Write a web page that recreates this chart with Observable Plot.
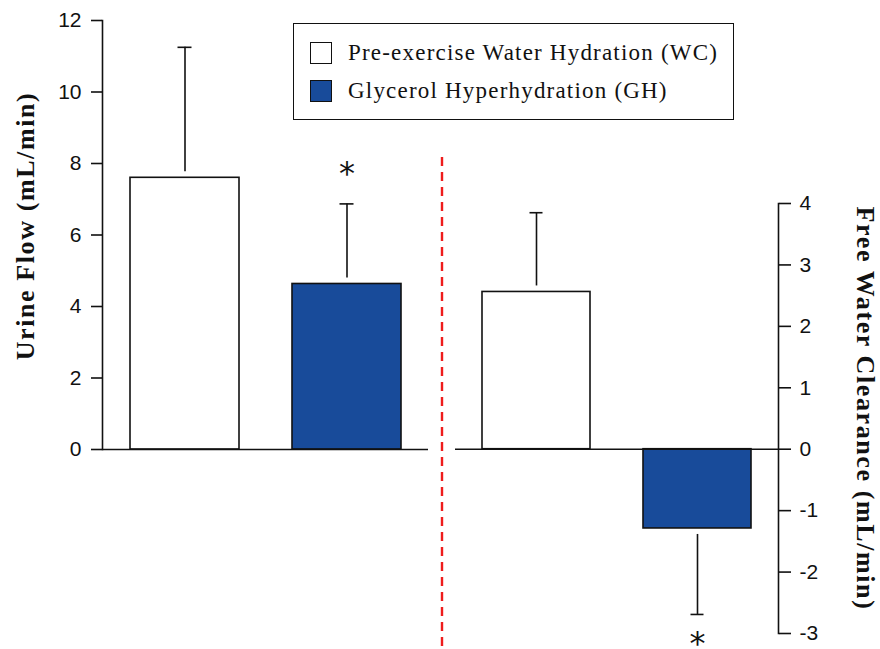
<!DOCTYPE html>
<html><head><meta charset="utf-8">
<script src="https://cdn.jsdelivr.net/npm/d3@7"></script>
<script src="https://cdn.jsdelivr.net/npm/@observablehq/plot@0.6"></script>
<style>
html,body{margin:0;padding:0;background:#fff;}
#chart{position:relative;width:880px;height:649px;overflow:hidden;background:#fff;}
.legend{position:absolute;left:293px;top:23px;width:441px;height:97px;box-sizing:border-box;border:1.6px solid #111;background:#fff;}
.legend .row{position:absolute;left:16px;height:24px;display:flex;align-items:center;white-space:nowrap;}
.legend .sw{width:22px;height:22px;box-sizing:border-box;border:1.6px solid #111;margin-right:16px;flex:none;}
.legend .lab{font-family:"Liberation Serif",serif;font-size:23px;letter-spacing:1.2px;color:#111;line-height:24px;}
</style></head><body><div id="chart"></div>
<script>
// ---- data ----
const groupKeys = ["WC", "GH"];
const groupNames = ["Pre-exercise Water Hydration (WC)", "Glycerol Hyperhydration (GH)"];
const groupFills = ["#ffffff", "#184b9a"];
const urineFlow = [7.6, 4.63];
const urineFlowErr = [3.65, 2.24];
const urineSig = ["", "*"];
const freeWaterClearance = [2.56, -1.29];
const freeWaterClearanceErr = [1.29, 1.40];
const freeWaterSig = ["", "*"];
const urineTicks = [0, 2, 4, 6, 8, 10, 12];
const freeWaterTicks = [-3, -2, -1, 0, 1, 2, 3, 4];
const leftLabel = "Urine Flow (mL/min)";
const rightLabel = "Free Water Clearance (mL/min)";

const flowRows = groupKeys.map((k, i) => ({key: k, v: urineFlow[i], end: urineFlow[i] + urineFlowErr[i], sig: urineSig[i]}));
const fwcRows = groupKeys.map((k, i) => ({
  key: k, v: freeWaterClearance[i],
  end: freeWaterClearance[i] + Math.sign(freeWaterClearance[i]) * freeWaterClearanceErr[i],
  sig: freeWaterSig[i]
}));

const chart = document.getElementById("chart");
const W = 880, H = 649;
const ink = "#111";
const colorScale = {domain: groupKeys, range: groupFills};
const tickFont = "Liberation Sans, Arial, sans-serif";
const labelFont = "Liberation Serif, Times New Roman, serif";
const starFont = "DejaVu Sans, sans-serif";

const left = Plot.plot({
  width: W, height: H,
  marginLeft: 102, marginRight: 452, marginTop: 20, marginBottom: 200,
  style: {background: "transparent", color: ink, overflow: "visible"},
  x: {domain: groupKeys, paddingInner: 0.328, paddingOuter: 0.17, axis: null},
  y: {domain: [0, 12]},
  color: colorScale,
  marks: [
    Plot.axisY({ticks: urineTicks, tickSize: 11, tickPadding: 10, fontSize: 21, fontFamily: tickFont, label: null, strokeWidth: 1.6}),
    Plot.frame({anchor: "left", strokeWidth: 1.6}),
    Plot.barY(flowRows, {x: "key", y: "v", fill: "key", stroke: ink, strokeWidth: 1.6}),
    Plot.ruleY([0], {stroke: ink, strokeWidth: 1.6}),
    Plot.ruleX(flowRows, {x: "key", y1: "end", y2: "v", insetBottom: 6, stroke: ink, strokeWidth: 1.6}),
    Plot.tickY(flowRows, {x: "key", y: "end", insetLeft: 47.5, insetRight: 47.5, stroke: ink, strokeWidth: 1.6}),
    Plot.text(flowRows.filter(d => d.sig), {x: "key", y: "end", text: "sig", dy: -30, fontSize: 32, fontFamily: starFont, fill: ink}),
    Plot.text([leftLabel], {text: d => d, frameAnchor: "left", textAnchor: "middle", rotate: -90, dx: -77, dy: -9, fontSize: 26, fontWeight: "bold", fontFamily: labelFont, fill: ink})
  ]
});

const right = Plot.plot({
  width: W, height: H,
  marginLeft: 455, marginRight: 102, marginTop: 203, marginBottom: 16,
  style: {background: "transparent", color: ink, overflow: "visible"},
  x: {domain: groupKeys, paddingInner: 0.328, paddingOuter: 0.165, axis: null},
  y: {domain: [-3, 4]},
  color: colorScale,
  marks: [
    Plot.axisY({anchor: "right", ticks: freeWaterTicks, tickSize: 12, tickPadding: 9, fontSize: 21, fontFamily: tickFont, label: null, strokeWidth: 1.6,
      tickFormat: d => d < 0 ? "-" + Math.abs(d) : String(d)}),
    Plot.frame({anchor: "right", strokeWidth: 1.6}),
    Plot.barY(fwcRows, {x: "key", y: "v", fill: "key", stroke: ink, strokeWidth: 1.6}),
    Plot.ruleY([0], {stroke: ink, strokeWidth: 1.6}),
    Plot.ruleX(fwcRows.filter(d => d.v >= 0), {x: "key", y1: "end", y2: "v", insetBottom: 6, stroke: ink, strokeWidth: 1.6}),
    Plot.ruleX(fwcRows.filter(d => d.v < 0), {x: "key", y1: "v", y2: "end", insetTop: 6, stroke: ink, strokeWidth: 1.6}),
    Plot.tickY(fwcRows, {x: "key", y: "end", insetLeft: 47.5, insetRight: 47.5, stroke: ink, strokeWidth: 1.6}),
    Plot.text(fwcRows.filter(d => d.sig), {x: "key", y: "end", text: "sig", dy: 29, fontSize: 32, fontFamily: starFont, fill: ink}),
    Plot.text([rightLabel], {text: d => d, frameAnchor: "right", textAnchor: "middle", rotate: 90, dx: 87, dy: -10, fontSize: 26, fontWeight: "bold", fontFamily: labelFont, fill: ink})
  ]
});

for (const svg of [left, right]) {
  svg.style.position = "absolute";
  svg.style.left = "0px";
  svg.style.top = "0px";
  chart.appendChild(svg);
  d3.select(svg).selectAll("text")
    .filter(function() { return this.textContent === leftLabel || this.textContent === rightLabel; })
    .style("letter-spacing", "1.6px");
}

// divider between panels
const overlay = d3.select(chart).append("svg")
  .attr("width", W).attr("height", H)
  .style("position", "absolute").style("left", "0px").style("top", "0px");
overlay.append("line")
  .attr("x1", 442).attr("x2", 442).attr("y1", 157).attr("y2", H)
  .attr("stroke", "#ee1c1c").attr("stroke-width", 2.4).attr("stroke-dasharray", "9,6");

// legend
const legend = d3.select(chart).append("div").attr("class", "legend");
groupNames.forEach((name, i) => {
  const row = legend.append("div").attr("class", "row").style("top", (17 + i * 38) + "px");
  row.append("div").attr("class", "sw").style("background", groupFills[i]);
  row.append("span").attr("class", "lab").text(name);
});
</script>
</body></html>
